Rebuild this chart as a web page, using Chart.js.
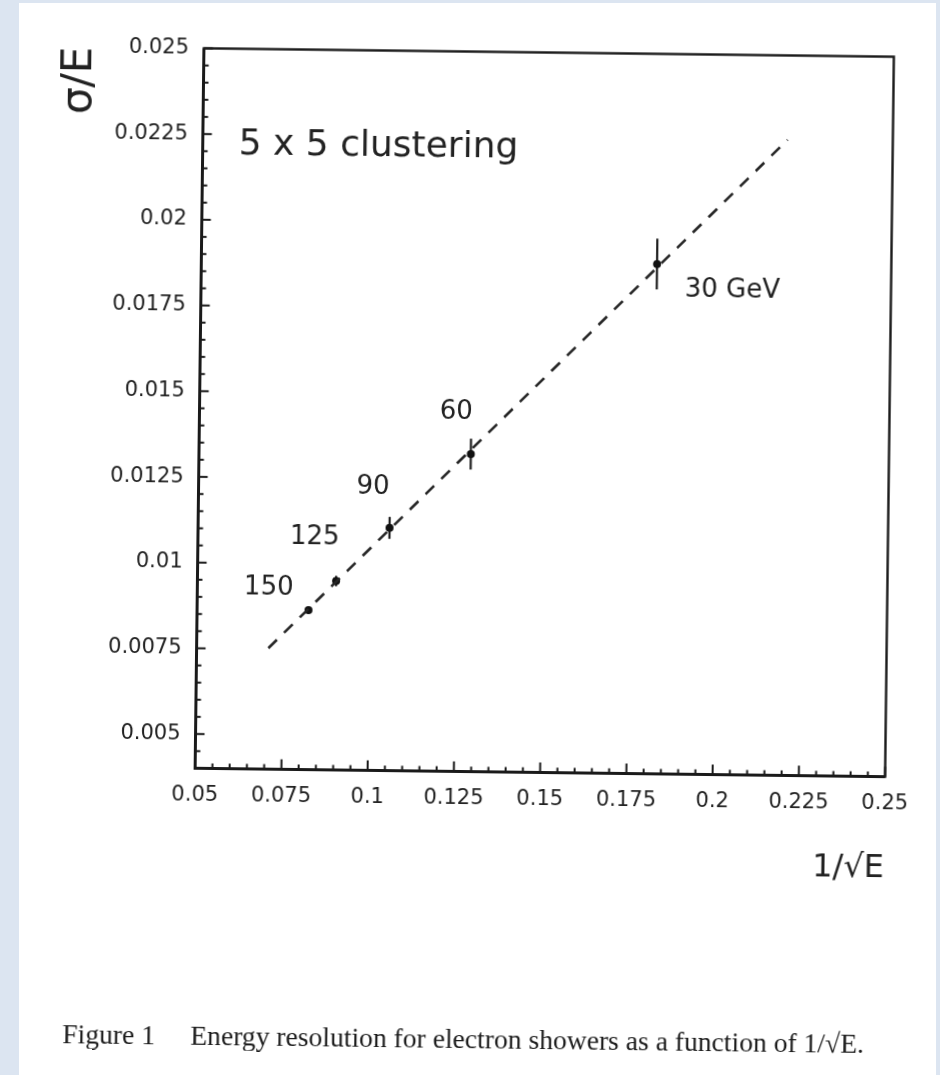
<!DOCTYPE html>
<html>
<head>
<meta charset="utf-8">
<script src="https://cdn.jsdelivr.net/npm/chart.js@4.4.1/dist/chart.umd.min.js"></script>
<style>
  html, body { margin: 0; padding: 0; }
  body { width: 940px; height: 1075px; background: #dce5f1; position: relative; overflow: hidden; }
  #page { position: absolute; left: 19px; top: 3px; width: 917px; height: 1072px; background: #fff; }
  /* the scanned page sits slightly skewed, so the whole sheet is turned a little */
  #sheet { position: absolute; left: 0; top: 0; width: 940px; height: 1075px;
           transform: rotate(0.7deg); transform-origin: 544.5px 412.5px; }
  #chart { position: absolute; left: 0; top: 0; }
  #caption { position: absolute; left: 70px; top: 1026px; font-family: "Liberation Serif", serif;
             font-size: 27.6px; line-height: 27px; color: #1c1c1c; white-space: nowrap; }
  #caption .num { display: inline-block; width: 128px; }
</style>
</head>
<body>
<div id="page"></div>
<div id="sheet">
  <canvas id="chart" width="940" height="1075"></canvas>
  <div id="caption"><span class="num">Figure 1</span>Energy resolution for electron showers as a function of 1/√E.</div>
</div>
<script>
// --- Data --- //
const energies = ['150', '125', '90', '60', '30 GeV'];
const invSqrtE = [0.0823, 0.0902, 0.1055, 0.1288, 0.1821];
const sigmaOverE = [0.00865, 0.00951, 0.01108, 0.01326, 0.01887];
const sigmaErr = [0.0001, 0.00015, 0.00032, 0.00045, 0.00074];

// dashed fit line end points
const fitX = [0.0708, 0.2195];
const fitY = [0.00753, 0.02254];

// axes
const xTicks = [0.05, 0.075, 0.1, 0.125, 0.15, 0.175, 0.2, 0.225, 0.25];
const xTickLabels = ['0.05', '0.075', '0.1', '0.125', '0.15', '0.175', '0.2', '0.225', '0.25'];
const yTicks = [0.005, 0.0075, 0.01, 0.0125, 0.015, 0.0175, 0.02, 0.0225, 0.025];
const yTickLabels = ['0.005', '0.0075', '0.01', '0.0125', '0.015', '0.0175', '0.02', '0.0225', '0.025'];

// label placement next to each point: [dx, dy, align]
const labelOffsets = [[-40, -22, 'center'], [-22, -43, 'center'], [-17, -41, 'center'], [-15, -42, 'center'], [28, 26, 'left']];

const ink = '#222';
const font = 'DejaVu Sans';

const framePlugin = {
    id: 'frame',
    beforeDatasetsDraw(chart) {
        const { ctx, scales: { x, y } } = chart;
        ctx.save();
        ctx.strokeStyle = '#1e1e1e';
        ctx.lineWidth = 2.2;
        invSqrtE.forEach((v, i) => {
            const px = x.getPixelForValue(v);
            ctx.beginPath();
            ctx.moveTo(px, y.getPixelForValue(sigmaOverE[i] - sigmaErr[i]));
            ctx.lineTo(px, y.getPixelForValue(sigmaOverE[i] + sigmaErr[i]));
            ctx.stroke();
        });
        ctx.restore();
    },
    afterDraw(chart) {
        const { ctx, chartArea: a, scales: { x, y } } = chart;
        ctx.save();
        ctx.strokeStyle = '#1a1a1a';
        ctx.lineWidth = 2.4;
        ctx.strokeRect(a.left, a.top, a.right - a.left, a.bottom - a.top);
        ctx.lineWidth = 3;
        ctx.beginPath();
        ctx.moveTo(a.left, a.top);
        ctx.lineTo(a.left, a.bottom);
        ctx.lineTo(a.right, a.bottom);
        ctx.stroke();

        // inward ticks, minor every fifth of a major step
        ctx.lineWidth = 2;
        const nx = Math.round((x.max - x.min) / 0.005);
        for (let i = 0; i <= nx; i++) {
            const px = x.getPixelForValue(x.min + i * 0.005);
            const len = i % 5 === 0 ? 10 : 5;
            ctx.beginPath();
            ctx.moveTo(px, a.bottom);
            ctx.lineTo(px, a.bottom - len);
            ctx.stroke();
        }
        const ny = Math.round((y.max - y.min) / 0.0005);
        for (let i = 0; i <= ny; i++) {
            const py = y.getPixelForValue(y.min + i * 0.0005);
            const len = (i - 2) % 5 === 0 ? 9 : 5;
            ctx.beginPath();
            ctx.moveTo(a.left, py);
            ctx.lineTo(a.left + len, py);
            ctx.stroke();
        }

        // energy labels
        ctx.fillStyle = ink;
        ctx.textBaseline = 'middle';
        ctx.font = '26px "' + font + '"';
        energies.forEach((t, i) => {
            const o = labelOffsets[i];
            ctx.textAlign = o[2];
            ctx.fillText(t, x.getPixelForValue(invSqrtE[i]) + o[0], y.getPixelForValue(sigmaOverE[i]) + o[1]);
        });

        ctx.font = '36px "' + font + '"';
        ctx.textAlign = 'left';
        ctx.fillText('5 x 5 clustering', a.left + 36, a.top + 96);
        ctx.restore();
    }
};

new Chart(document.getElementById('chart'), {
    type: 'scatter',
    data: {
        datasets: [
            {
                type: 'line',
                data: fitX.map((v, i) => ({ x: v, y: fitY[i] })),
                borderColor: '#262626',
                borderWidth: 2.6,
                borderDash: [12, 10],
                pointRadius: 0,
                fill: false,
                tension: 0
            },
            {
                data: invSqrtE.map((v, i) => ({ x: v, y: sigmaOverE[i] })),
                pointRadius: 4,
                pointBackgroundColor: '#111',
                pointBorderWidth: 0
            }
        ]
    },
    options: {
        responsive: false,
        animation: false,
        layout: { padding: { left: 0, top: 52.5, right: 50.5, bottom: 0 } },
        plugins: { legend: { display: false }, tooltip: { enabled: false } },
        scales: {
            x: {
                type: 'linear',
                min: 0.05,
                max: 0.25,
                afterBuildTicks: s => { s.ticks = xTicks.map(v => ({ value: v })); },
                afterFit: s => { s.height = 1075 - 772.5; },
                grid: { display: false, drawTicks: false },
                border: { display: false },
                ticks: {
                    padding: 14,
                    color: ink,
                    autoSkip: false,
                    maxRotation: 0,
                    font: { family: font, size: 21 },
                    callback: (v, i) => xTickLabels[i]
                },
                title: {
                    display: true,
                    text: '1/√E',
                    align: 'end',
                    color: ink,
                    font: { family: font, size: 32 },
                    padding: { top: 0, bottom: 191 }
                }
            },
            y: {
                type: 'linear',
                min: 0.004,
                max: 0.025,
                afterBuildTicks: s => { s.ticks = yTicks.map(v => ({ value: v })); },
                afterFit: s => { s.width = 199.5; },
                grid: { display: false, drawTicks: false },
                border: { display: false },
                ticks: {
                    padding: 15,
                    color: ink,
                    autoSkip: false,
                    font: { family: font, size: 21 },
                    callback: (v, i) => yTickLabels[i]
                },
                title: {
                    display: true,
                    text: 'σ/E',
                    align: 'end',
                    color: ink,
                    font: { family: font, size: 42 },
                    padding: { top: 51, bottom: 0 }
                }
            }
        }
    },
    plugins: [framePlugin]
});
</script>
</body>
</html>
